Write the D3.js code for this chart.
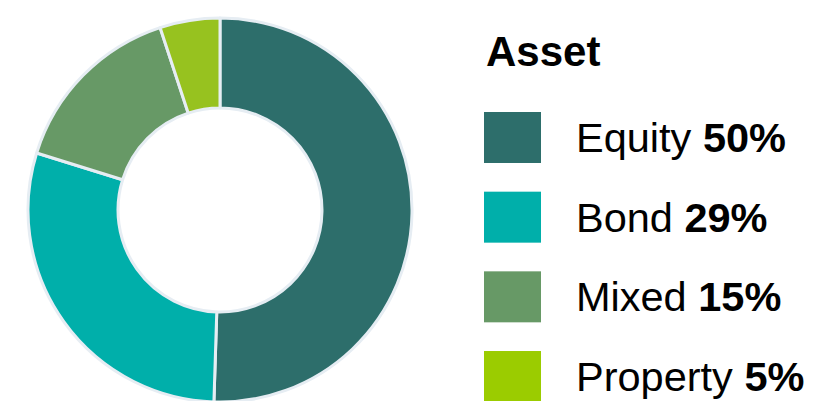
<!DOCTYPE html>
<html>
<head>
<meta charset="utf-8">
<script src="https://cdn.jsdelivr.net/npm/d3@7"></script>
<style>
  body { margin: 0; background: #fff; }
  text { font-family: "Liberation Sans", Arial, Helvetica, sans-serif; }
</style>
</head>
<body>
<div id="chart"></div>
<script>
var categories = ["Equity", "Bond", "Mixed", "Property"];
var values = [50, 29, 15, 5];
var colors = ["#2d6e6b", "#00afaa", "#679966", "#97c21f"];
var legendColors = ["#2d6e6b", "#00afaa", "#679966", "#9bcc00"];
var legendTitle = "Asset";

var width = 816,
    height = 401;

var svg = d3.select("#chart")
    .append("svg")
    .attr("width", width)
    .attr("height", height);

var data = categories.map(function(c, i) {
    return { name: c, value: values[i], color: colors[i], legend: legendColors[i] };
});

var pie = d3.pie()
    .sort(null)
    .value(function(d) { return d.value; });

var arc = d3.arc()
    .innerRadius(102)
    .outerRadius(192);

var donut = svg.append("g")
    .attr("transform", "translate(220,210)");

donut.selectAll("path")
    .data(pie(data))
    .enter()
    .append("path")
    .attr("d", arc)
    .attr("fill", function(d) { return d.data.color; })
    .attr("stroke", "#e6edf3")
    .attr("stroke-width", 3)
    .attr("stroke-linejoin", "round");

// legend
var y = d3.scaleBand()
    .domain(categories)
    .range([112, 402])
    .paddingInner(0.36)
    .paddingOuter(0);

var legend = svg.append("g");

legend.append("text")
    .attr("x", 486)
    .attr("y", 66)
    .attr("font-size", 42)
    .attr("font-weight", "bold")
    .attr("fill", "#000")
    .text(legendTitle);

var item = legend.selectAll(".item")
    .data(data)
    .enter()
    .append("g")
    .attr("class", "item")
    .attr("transform", function(d) { return "translate(0," + y(d.name) + ")"; });

item.append("rect")
    .attr("x", 484)
    .attr("y", 0)
    .attr("width", 57)
    .attr("height", y.bandwidth())
    .attr("fill", function(d) { return d.legend; });

var label = item.append("text")
    .attr("x", 576)
    .attr("y", 40)
    .attr("font-size", 41.5)
    .attr("fill", "#000");

label.append("tspan")
    .text(function(d) { return d.name + " "; });

label.append("tspan")
    .attr("font-weight", "bold")
    .text(function(d) { return d.value + "%"; });
</script>
</body>
</html>
